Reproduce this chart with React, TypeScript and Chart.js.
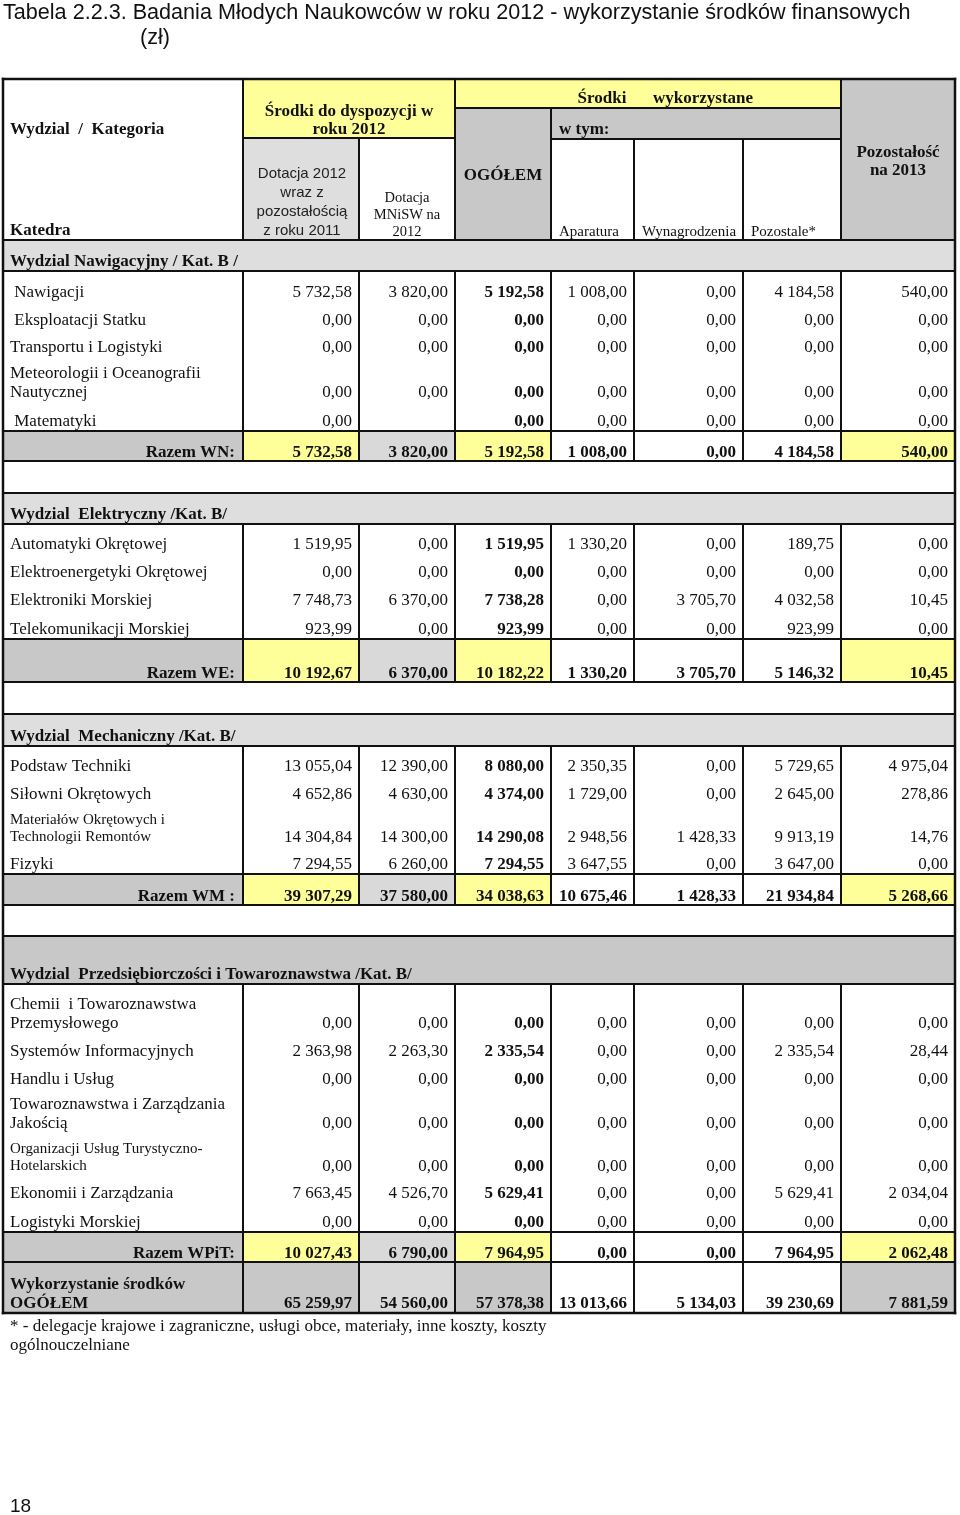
import React, { useEffect, useRef } from "react";
import { Chart, registerables } from "chart.js";

Chart.register(...registerables);

// ---------------- texts ----------------
const titleLine1 = "Tabela 2.2.3. Badania Młodych Naukowców w roku 2012 - wykorzystanie środków finansowych";
const titleLine2 = "(zł)";
const footnoteLines = [
  "* - delegacje krajowe i zagraniczne, usługi obce, materiały, inne koszty, koszty",
  "ogólnouczelniane",
];
const pageNumber = "18";

const headKategoria = "Wydzial  /  Kategoria";
const headKatedra = "Katedra";
const headDyspozycja = ["Środki do dyspozycji w", "roku 2012"];
const headDotacja2012 = ["Dotacja 2012", "wraz z", "pozostałością", "z roku 2011"];
const headDotacjaMNiSW = ["Dotacja", "MNiSW na", "2012"];
const headOgolem = "OGÓŁEM";
const headWykorzystane = ["Środki", "wykorzystane"];
const headWTym = "w tym:";
const headSub = ["Aparatura", "Wynagrodzenia", "Pozostale*"];
const headPozostalosc = ["Pozostałość", "na 2013"];
const grandLabel = ["Wykorzystanie środków", "OGÓŁEM"];

const sectionNames = [
  "Wydzial Nawigacyjny / Kat. B /",
  "Wydzial  Elektryczny /Kat. B/",
  "Wydzial  Mechaniczny /Kat. B/",
  "Wydzial  Przedsiębiorczości i Towaroznawstwa /Kat. B/",
];
const totalLabels = ["Razem WN:", "Razem WE:", "Razem WM :", "Razem WPiT:"];

// ---------------- data ----------------
// columns: Dotacja 2012 z pozost., Dotacja MNiSW, OGÓŁEM, Aparatura, Wynagrodzenia, Pozostałe, Pozostałość
const navKatedry = [" Nawigacji", " Eksploatacji Statku", "Transportu i Logistyki", "Meteorologii i Oceanografii\nNautycznej", " Matematyki"];
const navValues = [
  [5732.58, 3820.0, 5192.58, 1008.0, 0, 4184.58, 540.0],
  [0, 0, 0, 0, 0, 0, 0],
  [0, 0, 0, 0, 0, 0, 0],
  [0, 0, 0, 0, 0, 0, 0],
  [0, null, 0, 0, 0, 0, 0],
];
const navTotal = [5732.58, 3820.0, 5192.58, 1008.0, 0, 4184.58, 540.0];

const elKatedry = ["Automatyki Okrętowej", "Elektroenergetyki Okrętowej", "Elektroniki Morskiej", "Telekomunikacji Morskiej"];
const elValues = [
  [1519.95, 0, 1519.95, 1330.2, 0, 189.75, 0],
  [0, 0, 0, 0, 0, 0, 0],
  [7748.73, 6370.0, 7738.28, 0, 3705.7, 4032.58, 10.45],
  [923.99, 0, 923.99, 0, 0, 923.99, 0],
];
const elTotal = [10192.67, 6370.0, 10182.22, 1330.2, 3705.7, 5146.32, 10.45];

const mechKatedry = ["Podstaw Techniki", "Siłowni Okrętowych", "Materiałów Okrętowych i\nTechnologii Remontów", "Fizyki"];
const mechValues = [
  [13055.04, 12390.0, 8080.0, 2350.35, 0, 5729.65, 4975.04],
  [4652.86, 4630.0, 4374.0, 1729.0, 0, 2645.0, 278.86],
  [14304.84, 14300.0, 14290.08, 2948.56, 1428.33, 9913.19, 14.76],
  [7294.55, 6260.0, 7294.55, 3647.55, 0, 3647.0, 0],
];
const mechTotal = [39307.29, 37580.0, 34038.63, 10675.46, 1428.33, 21934.84, 5268.66];

const pitKatedry = [
  "Chemii  i Towaroznawstwa\nPrzemysłowego",
  "Systemów Informacyjnych",
  "Handlu i Usług",
  "Towaroznawstwa i Zarządzania\nJakością",
  "Organizacji Usług Turystyczno-\nHotelarskich",
  "Ekonomii i Zarządzania",
  "Logistyki Morskiej",
];
const pitValues = [
  [0, 0, 0, 0, 0, 0, 0],
  [2363.98, 2263.3, 2335.54, 0, 0, 2335.54, 28.44],
  [0, 0, 0, 0, 0, 0, 0],
  [0, 0, 0, 0, 0, 0, 0],
  [0, 0, 0, 0, 0, 0, 0],
  [7663.45, 4526.7, 5629.41, 0, 0, 5629.41, 2034.04],
  [0, 0, 0, 0, 0, 0, 0],
];
const pitTotal = [10027.43, 6790.0, 7964.95, 0, 0, 7964.95, 2062.48];

const grandTotal = [65259.97, 54560.0, 57378.38, 13013.66, 5134.03, 39230.69, 7881.59];

// ---------------- layout & style ----------------
const PAGE_W = 960;
const PAGE_H = 1515;
const COL_X = [3, 243, 359, 455, 551, 634, 743, 841, 955];
const HEAD_TOP = 79;
const HEAD_BOTTOM = 240;
const SECTION_LAYOUT = [
  { top: 240, headH: 31, dark: false, rowH: [31, 28, 27, 45, 29], totalH: 30, gapH: 32, small: [] as number[] },
  { top: 493, headH: 31, dark: false, rowH: [30, 28, 28, 29], totalH: 43, gapH: 32, small: [] as number[] },
  { top: 714, headH: 32, dark: false, rowH: [30, 28, 43, 27], totalH: 31, gapH: 31, small: [2] },
  { top: 936, headH: 48, dark: true, rowH: [49, 28, 28, 44, 43, 27, 29], totalH: 30, gapH: 0, small: [4] },
];
const GRAND_H = 51;
const TEXT_DY = 1.5;

const SERIF = '"Liberation Serif", "Times New Roman", serif';
const SANS = '"Liberation Sans", Arial, sans-serif';
const INK = "#111111";
const YELLOW = "#ffff99";
const GREY = "#c8c8c8";
const GREY_LIGHT = "#dedede";
const GREY_CELL = "#d9d9d9";
const WHITE = "#ffffff";
const LINE = 2;
const BODY = 17;
const SMALL = 15;

const fmt = (v: number | null) => {
  if (v === null || v === undefined) return "";
  const [i, d] = Math.abs(v).toFixed(2).split(".");
  const ip = i.replace(/\B(?=(\d{3})+(?!\d))/g, " ");
  return (v < 0 ? "-" : "") + ip + "," + d;
};

const sections = sectionNames.map((name, i) => ({
  name,
  totalLabel: totalLabels[i],
  katedry: [navKatedry, elKatedry, mechKatedry, pitKatedry][i],
  values: [navValues, elValues, mechValues, pitValues][i],
  total: [navTotal, elTotal, mechTotal, pitTotal][i],
  layout: SECTION_LAYOUT[i],
}));

const tablePlugin = {
  id: "tablePlugin",
  beforeDraw(chart: any) {
    const ctx = chart.ctx;
    ctx.save();
    ctx.fillStyle = WHITE;
    ctx.fillRect(0, 0, chart.width, chart.height);
    ctx.restore();
  },
  afterDraw(chart: any) {
    const ctx: CanvasRenderingContext2D = chart.ctx;
    const xs = chart.scales.x;
    const ys = chart.scales.y;
    const X = (v: number) => xs.getPixelForValue(v);
    const Y = (v: number) => ys.getPixelForValue(v);
    ctx.save();

    const rect = (x0: number, y0: number, x1: number, y1: number, c: string) => {
      ctx.fillStyle = c;
      ctx.fillRect(X(x0), Y(y0), X(x1) - X(x0), Y(y1) - Y(y0));
    };
    const hl = (x0: number, x1: number, y: number, w = LINE) => {
      ctx.fillStyle = INK;
      ctx.fillRect(X(x0) - w / 2, Y(y) - w / 2, X(x1) - X(x0) + w, w);
    };
    const vl = (x: number, y0: number, y1: number, w = LINE) => {
      ctx.fillStyle = INK;
      ctx.fillRect(X(x) - w / 2, Y(y0) - w / 2, w, Y(y1) - Y(y0) + w);
    };
    const txt = (
      s: string,
      x: number,
      y: number,
      size: number,
      opt: { bold?: boolean; align?: CanvasTextAlign; family?: string; color?: string } = {}
    ) => {
      ctx.font = `${opt.bold ? "bold " : ""}${size}px ${opt.family || SERIF}`;
      ctx.textAlign = opt.align || "left";
      ctx.textBaseline = "middle";
      ctx.fillStyle = opt.color || INK;
      ctx.fillText(s, X(x), Y(y + TEXT_DY));
    };

    // ---- title ----
    txt(titleLine1, 3, 12, 21.6, { family: SANS });
    txt(titleLine2, 155, 37, 21.6, { family: SANS, align: "center" });

    // ---- header backgrounds ----
    rect(COL_X[1], HEAD_TOP, COL_X[3], 138, YELLOW);
    rect(COL_X[3], HEAD_TOP, COL_X[7], 108, YELLOW);
    rect(COL_X[1], 138, COL_X[2], HEAD_BOTTOM, GREY_LIGHT);
    rect(COL_X[3], 108, COL_X[4], HEAD_BOTTOM, GREY);
    rect(COL_X[4], 108, COL_X[7], 139, GREY);
    rect(COL_X[7], HEAD_TOP, COL_X[8], HEAD_BOTTOM, GREY);

    // ---- header lines ----
    hl(COL_X[0], COL_X[8], HEAD_TOP, 2.5);
    hl(COL_X[1], COL_X[3], 138);
    hl(COL_X[3], COL_X[7], 108);
    hl(COL_X[4], COL_X[7], 139);
    vl(COL_X[1], HEAD_TOP, HEAD_BOTTOM);
    vl(COL_X[2], 138, HEAD_BOTTOM);
    vl(COL_X[3], HEAD_TOP, HEAD_BOTTOM);
    vl(COL_X[4], 108, HEAD_BOTTOM);
    vl(COL_X[5], 139, HEAD_BOTTOM);
    vl(COL_X[6], 139, HEAD_BOTTOM);
    vl(COL_X[7], HEAD_TOP, HEAD_BOTTOM);

    // ---- header texts ----
    txt(headKategoria, 10, 128, BODY, { bold: true });
    txt(headKatedra, 10, 229, BODY, { bold: true });
    headDyspozycja.forEach((s, i) => txt(s, (COL_X[1] + COL_X[3]) / 2, 110 + i * 18, BODY, { bold: true, align: "center" }));
    headDotacja2012.forEach((s, i) => txt(s, (COL_X[1] + COL_X[2]) / 2 + 1, 172 + i * 19, 15, { align: "center", family: SANS, color: "#222" }));
    headDotacjaMNiSW.forEach((s, i) => txt(s, (COL_X[2] + COL_X[3]) / 2, 197 + i * 17, 14.5, { align: "center" }));
    txt(headOgolem, (COL_X[3] + COL_X[4]) / 2, 174, BODY, { bold: true, align: "center" });
    txt(headWykorzystane[0], 602, 97, BODY, { bold: true, align: "center" });
    txt(headWykorzystane[1], 703, 97, BODY, { bold: true, align: "center" });
    txt(headWTym, 559, 128, BODY, { bold: true });
    headSub.forEach((s, i) => txt(s, COL_X[4 + i] + 8, 231, 15));
    headPozostalosc.forEach((s, i) => txt(s, (COL_X[7] + COL_X[8]) / 2, 151 + i * 18, BODY, { bold: true, align: "center" }));

    // ---- sections ----
    let lastBottom = HEAD_BOTTOM;
    sections.forEach((sec) => {
      const L = sec.layout;
      const headB = L.top + L.headH;
      rect(COL_X[0], L.top, COL_X[8], headB, L.dark ? GREY : GREY_LIGHT);
      hl(COL_X[0], COL_X[8], L.top);
      hl(COL_X[0], COL_X[8], headB);
      txt(sec.name, 10, headB - 11, BODY, { bold: true });

      let y = headB;
      sec.katedry.forEach((k, r) => {
        const yb = y + L.rowH[r];
        const small = L.small.includes(r);
        const lines = k.split("\n");
        const lh = small ? 17 : 19;
        lines.forEach((ln, li) => {
          txt(ln, 10, yb - 11 - (lines.length - 1 - li) * lh, small ? SMALL : BODY);
        });
        sec.values[r].forEach((v, c) => {
          txt(fmt(v as number | null), COL_X[c + 2] - 7, yb - 11, BODY, { align: "right", bold: c === 2 });
        });
        y = yb;
      });
      const tTop = y;
      const tBot = y + L.totalH;
      const fills = [GREY, YELLOW, GREY_CELL, YELLOW, WHITE, WHITE, WHITE, YELLOW];
      fills.forEach((f, c) => rect(COL_X[c], tTop, COL_X[c + 1], tBot, f));
      for (let c = 1; c < 8; c++) vl(COL_X[c], headB, tBot);
      hl(COL_X[0], COL_X[8], tTop);
      hl(COL_X[0], COL_X[8], tBot);
      txt(sec.totalLabel, COL_X[1] - 8, tBot - 10, BODY, { bold: true, align: "right" });
      sec.total.forEach((v, c) => txt(fmt(v), COL_X[c + 2] - 7, tBot - 10, BODY, { bold: true, align: "right" }));
      lastBottom = tBot + L.gapH;
    });

    // ---- grand total ----
    const gTop = lastBottom;
    const gBot = gTop + GRAND_H;
    const gFills = [GREY, GREY, GREY_CELL, GREY, WHITE, WHITE, WHITE, GREY];
    gFills.forEach((f, c) => rect(COL_X[c], gTop, COL_X[c + 1], gBot, f));
    for (let c = 1; c < 8; c++) vl(COL_X[c], gTop, gBot);
    hl(COL_X[0], COL_X[8], gTop);
    hl(COL_X[0], COL_X[8], gBot, 2.5);
    grandLabel.forEach((s, i) => txt(s, 10, gBot - 30 + i * 19, BODY, { bold: true }));
    grandTotal.forEach((v, c) => txt(fmt(v), COL_X[c + 2] - 7, gBot - 11, BODY, { bold: true, align: "right" }));

    // ---- outer borders ----
    vl(COL_X[0], HEAD_TOP, gBot, 2.5);
    vl(COL_X[8], HEAD_TOP, gBot, 2.5);

    // ---- footnote & page number ----
    footnoteLines.forEach((s, i) => txt(s, 10, gBot + 12 + i * 19, BODY));
    txt(pageNumber, 10, 1505, 19, { family: SANS });

    ctx.restore();
  },
};

export default function App() {
  const ref = useRef<HTMLCanvasElement>(null);
  useEffect(() => {
    if (!ref.current) return;
    const chart = new Chart(ref.current, {
      type: "scatter",
      data: { datasets: [{ data: [] }] },
      options: {
        animation: false,
        responsive: false,
        maintainAspectRatio: false,
        events: [],
        layout: { padding: 0 },
        plugins: { legend: { display: false }, tooltip: { enabled: false }, title: { display: false } },
        scales: {
          x: { type: "linear", min: 0, max: PAGE_W, display: false },
          y: { type: "linear", min: 0, max: PAGE_H, reverse: true, display: false },
        },
      },
      plugins: [tablePlugin],
    } as any);
    return () => chart.destroy();
  }, []);
  return (
    <div style={{ position: "absolute", left: 0, top: 0, width: PAGE_W, height: PAGE_H, background: "#fff" }}>
      <canvas ref={ref} width={PAGE_W} height={PAGE_H} style={{ display: "block" }} />
    </div>
  );
}
